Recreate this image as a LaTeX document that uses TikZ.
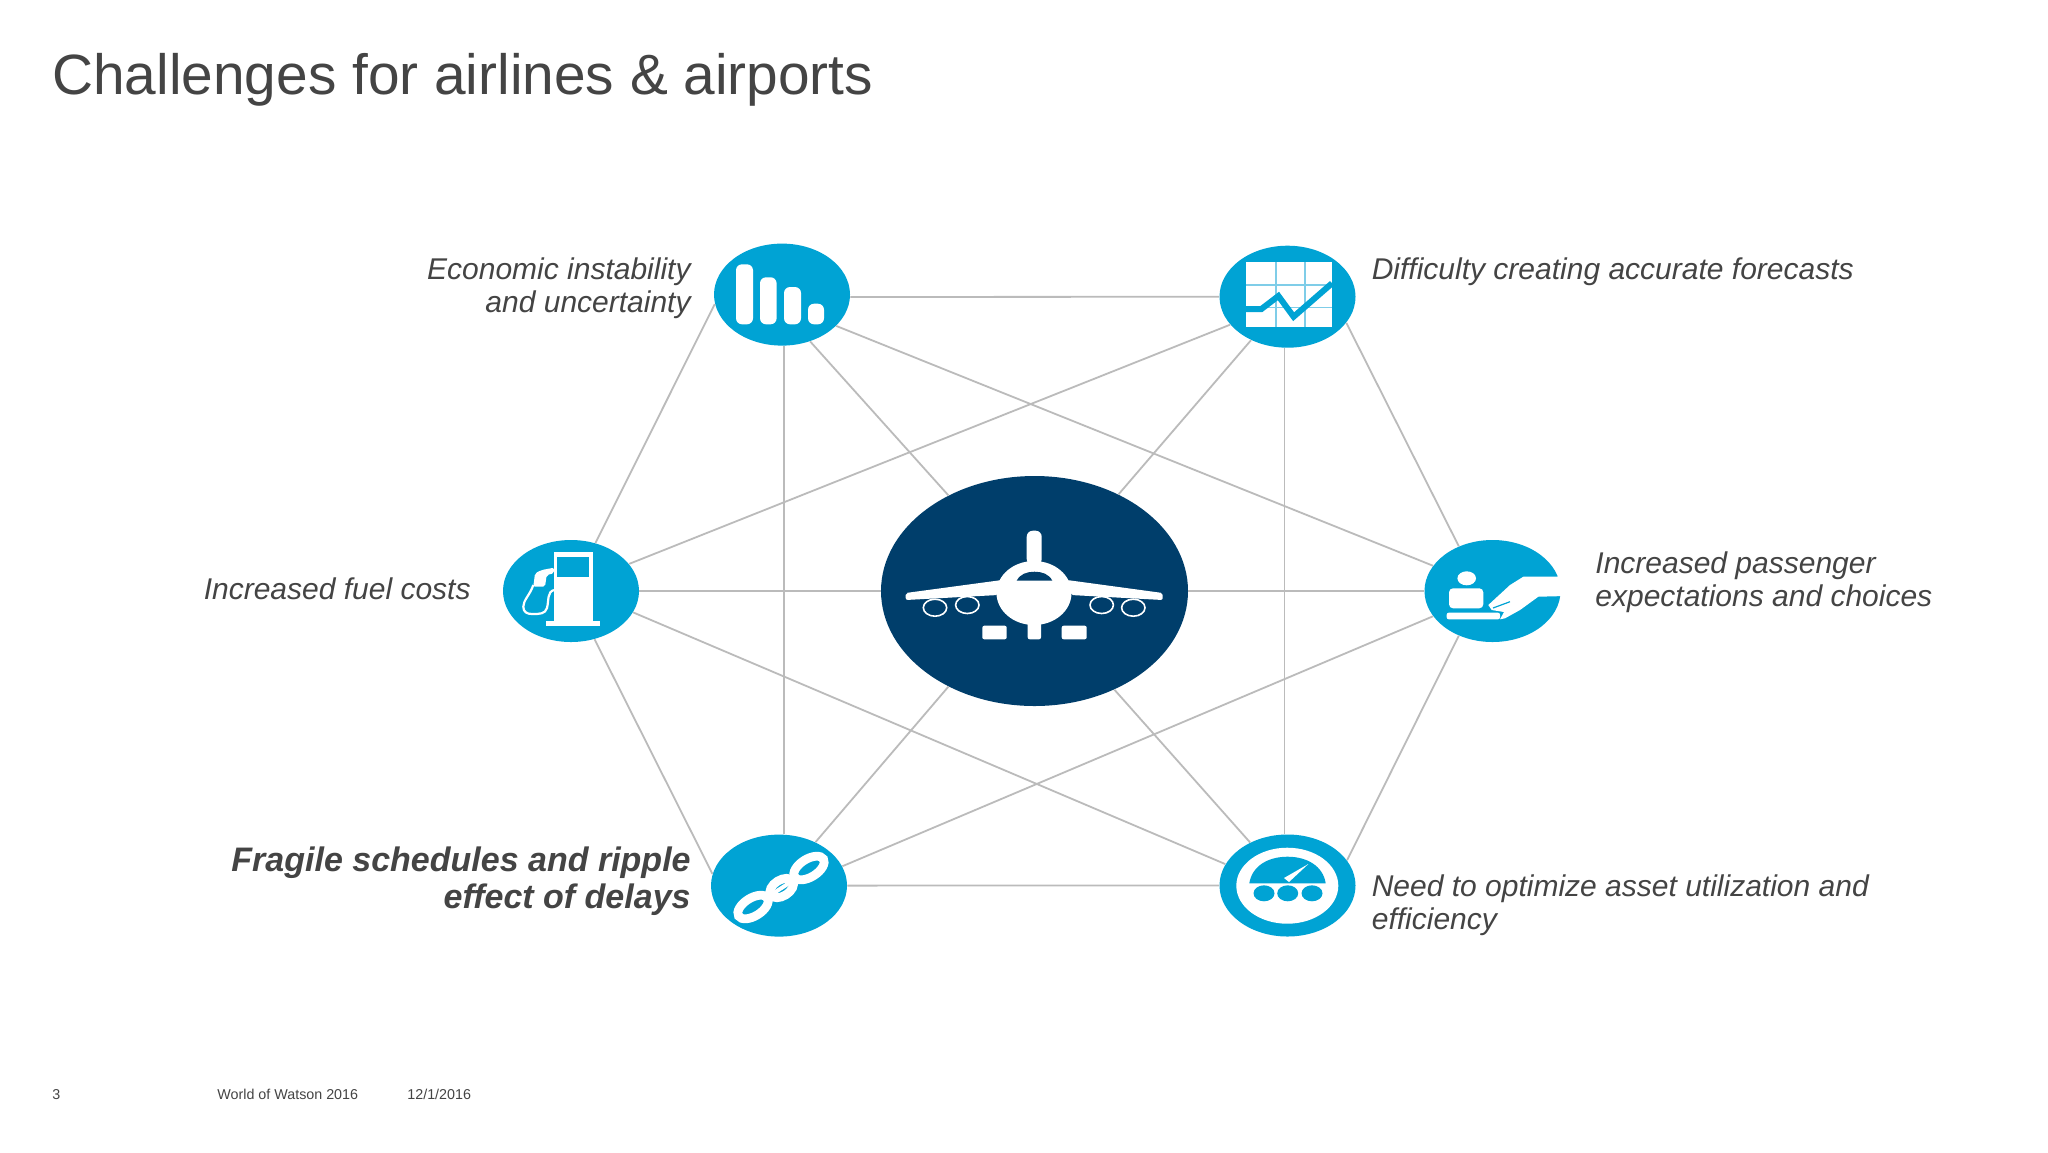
\documentclass[tikz,border=0pt]{standalone}
\usepackage{fontspec}
\setmainfont{Liberation Sans}
\usetikzlibrary{shapes.geometric}
\definecolor{iconblue}{HTML}{00A3D4}
\definecolor{hubblue}{HTML}{003E6B}
\definecolor{gridblue}{HTML}{7FCDE8}
\definecolor{edgegray}{HTML}{BBBBBB}
\definecolor{textgray}{HTML}{444444}

\begin{document}
\begin{tikzpicture}[x=0.5pt,y=-0.5pt]
    \tikzset{vertex/.style = {shape=ellipse, fill=iconblue, inner sep=0pt, minimum width=68pt, minimum height=51pt}}
    \tikzset{hub/.style = {shape=ellipse, fill=hubblue, inner sep=0pt, minimum width=153.5pt, minimum height=115pt}}
    \tikzset{edge/.style = {draw=edgegray, line width=0.9pt}}
    \tikzset{note/.style = {text=textgray, font=\fontsize{15}{16.3}\selectfont\itshape, inner sep=0pt}}
    \tikzset{boldnote/.style = {text=textgray, font=\fontsize{17}{18.6}\selectfont\bfseries\itshape, inner sep=0pt}}
    \tikzset{foot/.style = {text=textgray, font=\fontsize{7.15}{8}\selectfont, inner sep=0pt, anchor=base west}}
    \useasboundingbox (0,0) rectangle (2048,1152);
    \fill[white] (0,0) rectangle (2048,1152);

    % title and footer
    \node[text=textgray, font=\fontsize{28.4}{32}\selectfont, inner sep=0pt, anchor=west] (title) at (52,80) {Challenges for airlines \& airports};
    \node[foot] (pagenum) at (52,1099) {3};
    \node[foot] (event) at (217,1099) {World of Watson 2016};
    \node[foot] (date) at (407,1099) {12/1/2016};

    % vertices
    \node[hub] (plane) at (1034.5,591) {};
    \node[vertex] (econ) at (782,294.6) {};
    \node[vertex] (forecast) at (1287.5,296.7) {};
    \node[vertex] (fuel) at (571,591) {};
    \node[vertex] (pax) at (1492.5,591) {};
    \node[vertex] (chain) at (779,885.6) {};
    \node[vertex] (gauge) at (1287.5,885.5) {};

    % edges
    \draw[edge] (econ.358) -- (forecast);
    \draw[edge] (forecast.336) -- (pax.127);
    \draw[edge] (pax.233) -- (gauge.23.5);
    \draw[edge] (gauge) -- (chain);
    \draw[edge] (chain.170) -- (fuel.296.5);
    \draw[edge] (fuel.63.6) -- (econ.188.4);
    \draw[edge] (econ.330.6) -- (pax.157.4);
    \draw[edge] (forecast.206.8) -- (fuel.25.2);
    \draw[edge] (chain.17.3) -- (pax.203.4);
    \draw[edge] (gauge.161.7) -- (fuel.341.8);
    \draw[edge] ([xshift=1pt]econ.south) -- ([xshift=2.5pt]chain.north);
    \draw[edge] ([xshift=-1.5pt]forecast.south) -- ([xshift=-1.5pt]gauge.north);
    \draw[edge] (plane) -- (fuel);
    \draw[edge] (plane) -- (pax);
    \draw[edge] (plane.132.2) -- (econ.301.8);
    \draw[edge] (plane.49.4) -- (forecast.230);
    \draw[edge] (plane.228.8) -- (chain.50);
    \draw[edge] (plane.309.6) -- (gauge.131.6);

    % labels
    \node[note, anchor=east, align=right] (econtext) at (691,288) {Economic instability\\and uncertainty};
    \node[note, anchor=west, align=left] (forecasttext) at (1371.4,271.5) {Difficulty creating accurate forecasts};
    \node[note, anchor=east, align=right] (fueltext) at (471,589) {Increased fuel costs};
    \node[note, anchor=west, align=left] (paxtext) at (1595,582.5) {Increased passenger\\expectations and choices};
    \node[boldnote, anchor=east, align=right] (chaintext) at (691,881.5) {Fragile schedules and ripple\\effect of delays};
    \node[note, anchor=west, align=left] (gaugetext) at (1371.4,905.5) {Need to optimize asset utilization and\\efficiency};

    % bars icon
    \fill[white, rounded corners=3pt] (736,264.3) rectangle (753,324.3);
    \fill[white, rounded corners=3pt] (760,277.3) rectangle (776.6,324.3);
    \fill[white, rounded corners=3pt] (784,287) rectangle (801,324.3);
    \fill[white, rounded corners=3pt] (808,303.7) rectangle (824,324.3);

    % chart icon
    \fill[white] (1245.8,262.3) rectangle (1332,327.3);
    \draw[gridblue, line width=0.8pt] (1275.7,262.3) -- (1275.7,327.3) (1304.7,262.3) -- (1304.7,327.3);
    \draw[gridblue, line width=0.8pt] (1245.8,285) -- (1332,285) (1245.8,307.3) -- (1332,307.3);
    \draw[iconblue, line width=3pt] (1246,309) -- (1261.4,309) -- (1278.4,296) -- (1293.6,316.7) -- (1332,283.3);

    % pump icon
    \fill[white] (554,552.3) rectangle (593.3,623);
    \fill[white] (545.7,621) rectangle (600,625.7);
    \fill[iconblue] (557.3,556.7) rectangle (589,576.7);
    \fill[white, rounded corners=1pt] (554,567.7) -- (554,573.3) -- (546.7,575) -- (545,586.7) -- (533.3,586.7) -- (535,573.3) -- (541.7,570) -- cycle;
    \draw[white, line width=1.1pt] (533.3,585) .. controls (530,595) and (523.3,600) .. (523.3,606.7) .. controls (523.3,612) and (527,614) .. (532,614) .. controls (540,614) and (545,614) .. (547,608) .. controls (549,600) and (547,592) .. (554,590);

    % hand icon
    \fill[white] (1466.7,578.3) ellipse [x radius=9.3, y radius=7];
    \fill[white, rounded corners=2pt] (1449,608.3) -- (1449,588.3) -- (1483.3,588.3) -- (1483.3,608.3) -- cycle;
    \fill[white, rounded corners=1pt] (1446.7,612.7) rectangle (1500,619.3);
    \fill[white] (1566,574) -- (1556.7,576.7) -- (1523.3,576.7) -- (1510,585) -- (1488.3,605) -- (1491.7,610) -- (1504,612) -- (1500,619.3) -- (1505,618.3) -- (1520,610) -- (1538.3,596.7) -- (1566,596) -- cycle;
    \draw[iconblue, line width=0.6pt] (1493,608) -- (1510,601.7);

    % chain icon
    \draw[white, line width=4.4pt, rotate around={32:(753,907)}] (753,907) ellipse [x radius=17, y radius=9];
    \draw[white, line width=4.4pt, rotate around={32:(809,868)}] (809,868) ellipse [x radius=17, y radius=9];
    \draw[white, line width=4.4pt, rotate around={32:(781.7,888)}] (781.7,888) ellipse [x radius=13, y radius=8];
    \draw[white, line width=2pt] (773,893.5) -- (790,882.5);

    % gauge icon
    \fill[white] (1287.3,885.7) ellipse [x radius=51, y radius=38];
    \fill[iconblue] (1249.3,883.3) .. controls (1252,866) and (1268,856.7) .. (1287.5,856.7) .. controls (1307,856.7) and (1323,866) .. (1325.7,883.3) -- cycle;
    \fill[white] (1284,878) -- (1308.3,864) -- (1289,882) -- cycle;
    \fill[iconblue] (1264,893.3) ellipse [x radius=10.5, y radius=8];
    \fill[iconblue] (1287.7,893.3) ellipse [x radius=10.5, y radius=8];
    \fill[iconblue] (1312,893.3) ellipse [x radius=10.5, y radius=8];

    % plane icon
    \fill[white, rounded corners=3pt] (1026.7,565) -- (1026.7,530.7) -- (1041.7,530.7) -- (1041.7,565) -- cycle;
    \fill[white] (1034,593) ellipse [x radius=37.5, y radius=32];
    \fill[white, rounded corners=1pt] (1002,580) -- (905.7,593) -- (905.7,600) -- (998,595) -- cycle;
    \fill[white, rounded corners=1pt] (1067,580) -- (1162.7,593) -- (1162.7,600) -- (1071,595) -- cycle;
    \fill[hubblue] (1016.7,580.7) .. controls (1020,574) and (1027,571.7) .. (1034.5,571.7) .. controls (1042,571.7) and (1049,574) .. (1052.3,580.7) -- cycle;
    \draw[white, fill=hubblue, line width=0.8pt] (935,607.7) ellipse [x radius=11.7, y radius=8.5];
    \draw[white, fill=hubblue, line width=0.8pt] (967.3,605) ellipse [x radius=11.7, y radius=8.5];
    \draw[white, fill=hubblue, line width=0.8pt] (1101.7,605) ellipse [x radius=11.7, y radius=8.5];
    \draw[white, fill=hubblue, line width=0.8pt] (1133.3,607.7) ellipse [x radius=11.7, y radius=8.5];
    \fill[white, rounded corners=1pt] (982.3,625.7) rectangle (1006.7,639.3);
    \fill[white, rounded corners=1pt] (1061.7,625.7) rectangle (1086.7,639.3);
    \fill[white, rounded corners=1pt] (1027.7,620) rectangle (1041,639.3);
\end{tikzpicture}
\end{document}
